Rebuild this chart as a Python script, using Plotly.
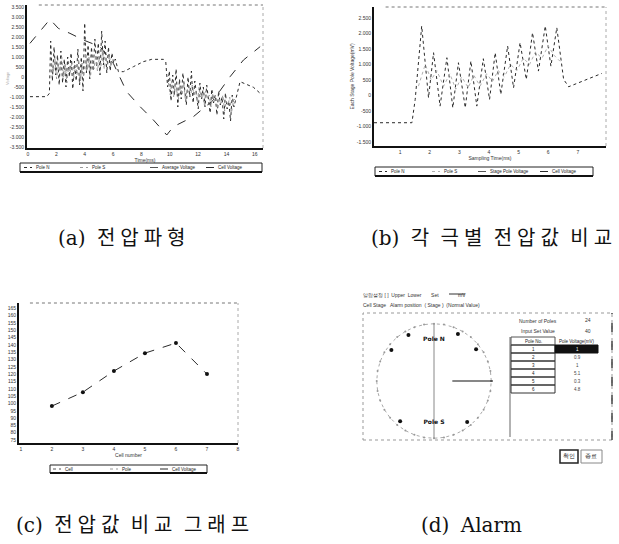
import plotly.graph_objects as go

W, H = 619, 544
def px(x): return x / W
def py(y): return 1 - y / H

# ---------------- Panel (a) data ----------------
a_xticks = [0, 2, 4, 6, 8, 10, 12, 14, 16]
a_yticks = [3500, 3000, 2500, 2000, 1500, 1000, 500, 0, -500, -1000, -1500, -2000, -2500, -3000, -3500]
a_yticktext = ["3.500", "3.000", "2.500", "2.000", "1.500", "1.000", "500", "0", "-500",
               "-1.000", "-1.500", "-2.000", "-2.500", "-3.000", "-3.500"]

a_env_x = [0.14, 1.55, 2.14, 2.96, 3.91, 5.08, 6.02, 6.96, 7.91, 8.85, 9.79, 10.26, 11.67, 13.08, 14.26, 15.2, 16.38]
a_env_y = [1683, 2883, 2433, 2183, 1850, 1517, 683, -733, -1483, -2150, -2900, -2483, -1983, -1150, 17, 850, 1517]

a_start_x = [0.14, 1.32, 1.51]
a_start_y = [-983, -983, -817]
a_r1_x = [1.6, 1.72, 1.84, 1.96, 2.08, 2.2, 2.32, 2.44, 2.56, 2.68, 2.8, 2.92, 3.04, 3.16, 3.28, 3.4, 3.52, 3.64, 3.76,
          3.88, 4.0, 4.12, 4.24, 4.36, 4.48, 4.6, 4.72, 4.84, 4.96, 5.08, 5.2, 5.32, 5.44, 5.56, 5.68, 5.8, 5.92, 6.04, 6.16]
a_r1_y = [1800, -200, 1500, 100, 1100, -400, 1300, -300, 900, -500, 1000, 0, 1200, -600, 800, -200, 1400, -400, 1000, -700,
          2700, 200, 1600, -100, 1500, 300, 1900, 500, 1700, 100, 2300, 600, 1800, 200, 1500, 300, 1200, 700, 900]
a_mid_x = [6.38, 6.73, 7.44, 8.14, 8.73, 9.55, 9.72]
a_mid_y = [267, 267, 517, 767, 883, 883, 767]
a_r2_x = [9.85, 9.97, 10.09, 10.21, 10.33, 10.45, 10.57, 10.69, 10.81, 10.93, 11.05, 11.17, 11.29, 11.41, 11.53, 11.65,
          11.77, 11.89, 12.01, 12.13, 12.25, 12.37, 12.49, 12.61, 12.73, 12.85, 12.97, 13.09, 13.21, 13.33, 13.45, 13.57,
          13.69, 13.81, 13.93, 14.05, 14.17, 14.29, 14.41, 14.53]
a_r2_y = [-500, 300, -1200, 100, -900, 400, -1500, -100, -1100, 200, -700, -1400, 0, -1000, 300, -1300, -200, -800, -1600, -300,
          -1100, -500, -1500, -400, -1200, -1800, -600, -1300, -900, -1900, -700, -1400, -1000, -2100, -800, -1600, -1200, -2200, -900, -1500]
a_end_x = [14.96, 15.91, 16.38]
a_end_y = [-233, -517, -817]

a_lt1_y = [700, 200, 900, -100, 600, 300, 1000, 0, 700, -300, 500, 200, 800, -100, 600, 100, 900, -200, 700, 0,
           1200, 300, 1000, 100, 900, 400, 1100, 300, 900, 500, 1300, 400, 1000, 600, 1100, 500, 900, 800, 700]
a_lt2_y = [-300, -900, -200, -1000, -400, -700, -1100, -500, -900, -300, -1200, -600, -800, -1000, -400, -900, -700, -1300, -500, -1000,
           -800, -1400, -700, -1100, -900, -1500, -800, -1200, -1000, -1600, -1100, -1300, -900, -1700, -1200, -1400, -1000, -1800, -1300, -1100]
a_legend = ["Pole N", "Pole S", "Average Voltage", "Cell Voltage"]

# ---------------- Panel (b) data ----------------
b_xticks = [1, 2, 3, 4, 5, 6, 7]
b_yticks = [2500, 2000, 1500, 1000, 500, 0, -500, -1000, -1500]
b_yticktext = ["2.500", "2.000", "1.500", "1.000", "500", "0", "-500", "-1.000", "-1.500"]
b_x = [0.12, 1.40, 1.51, 1.73, 1.96, 2.13, 2.35, 2.58, 2.78, 2.97, 3.20, 3.39, 3.59, 3.81, 4.02, 4.21, 4.40, 4.63, 4.83,
       5.05, 5.26, 5.47, 5.67, 5.90, 6.09, 6.29, 6.52, 6.69, 7.81]
b_y = [-880, -880, -130, 2237, -75, 1376, -344, 1215, -398, 1054, -398, 1108, -344, 1183, -129, 1376, 32, 1591, 247,
       1700, 516, 2022, 785, 2237, 946, 2184, 516, 280, 710]
b2_x = [1.62, 1.85, 2.05, 2.24, 2.47, 2.68, 2.88, 3.08, 3.30, 3.49, 3.70, 3.92, 4.12, 4.31, 4.52, 4.73, 4.94, 5.16,
        5.37, 5.57, 5.79, 6.00, 6.19, 6.40]
b2_y = [300, 1000, 500, 800, 300, 700, 200, 600, 250, 650, 300, 700, 450, 800, 600, 1000, 800, 1200, 1000, 1400,
        1200, 1600, 1300, 1100]
b_legend = ["Pole N", "Pole S", "Stage Pole Voltage", "Cell Voltage"]

# ---------------- Panel (c) data ----------------
c_xticks = [1, 2, 3, 4, 5, 6, 7, 8]
c_yticks = [75, 80, 85, 90, 95, 100, 105, 110, 115, 120, 125, 130, 135, 140, 145, 150, 155, 160, 165]
c_x = [2, 3, 4, 5, 6, 7]
c_y = [98.2, 107.7, 122.1, 134.3, 141.2, 120.0]
c_legend = ["Cell", "Pole", "Cell Voltage"]

# ---------------- Panel (d) data ----------------
pole_angles = [0, 10, 20, 30, 40, 50, 60, 70, 80, 90, 100, 110, 120, 130, 140, 150, 160, 170,
               180, 190, 200, 210, 220, 230, 240, 250, 260, 270, 280, 290, 300, 310, 320, 330, 340, 350, 360]
alarm_angles = [37, 63, 119, 144, 230, 309]
table_header = ["Pole No.", "Pole Voltage(mV)"]
pole_no = ["1", "2", "3", "4", "5", "6"]
pole_volt = ["1", "0.9", "1", "5.1", "0.3", "4.8"]

# ---------------- figure ----------------
fig = go.Figure()
ink = "#2a2a2a"
grey = "#9a9a9a"

# (a)
fig.add_trace(go.Scatter(x=a_env_x, y=a_env_y, mode="lines", name=a_legend[3],
                         line=dict(color=ink, width=1, dash="dash"), xaxis="x", yaxis="y"))
fig.add_trace(go.Scatter(x=a_start_x + a_r1_x + a_mid_x + a_r2_x + a_end_x,
                         y=a_start_y + a_r1_y + a_mid_y + a_r2_y + a_end_y, mode="lines", name=a_legend[0],
                         line=dict(color=ink, width=1, dash="dot"), xaxis="x", yaxis="y"))
fig.add_trace(go.Scatter(x=[v + 0.06 for v in a_r1_x] + [None] + [v + 0.06 for v in a_r2_x],
                         y=a_lt1_y + [None] + a_lt2_y, mode="lines", name=a_legend[1],
                         line=dict(color=grey, width=1, dash="dot"), xaxis="x", yaxis="y"))

# (b)
fig.add_trace(go.Scatter(x=b_x, y=b_y, mode="lines", name=b_legend[0],
                         line=dict(color=ink, width=1, dash="dot"), xaxis="x2", yaxis="y2"))
fig.add_trace(go.Scatter(x=b2_x, y=b2_y, mode="lines", name=b_legend[1],
                         line=dict(color="#b0b0b0", width=1, dash="dot"), xaxis="x2", yaxis="y2"))

# (c)
fig.add_trace(go.Scatter(x=c_x, y=c_y, mode="lines+markers", name=c_legend[2],
                         line=dict(color=ink, width=1, dash="dash"),
                         marker=dict(color="#111", size=4), xaxis="x3", yaxis="y3"))

# (d) polar
fig.add_trace(go.Scatterpolar(r=[1.0] * len(pole_angles), theta=pole_angles, mode="lines+markers",
                              line=dict(color="#aaaaaa", width=1, dash="dot"),
                              marker=dict(color="#999", size=2), subplot="polar"))
fig.add_trace(go.Scatterpolar(r=[0.92] * len(alarm_angles), theta=alarm_angles, mode="markers",
                              marker=dict(color="#111", size=4), subplot="polar"))
fig.add_trace(go.Scatterpolar(r=[1.0, 0, 1.0], theta=[90, 90, 270], mode="lines",
                              line=dict(color="#888", width=1), subplot="polar"))
fig.add_trace(go.Scatterpolar(r=[0.32, 1.03], theta=[0, 0], mode="lines",
                              line=dict(color="#111", width=1.2), subplot="polar"))
fig.add_trace(go.Scatterpolar(r=[0.72, 0.72], theta=[90, 270], mode="text", text=["<b>Pole N</b>", "<b>Pole S</b>"],
                              textfont=dict(size=6, color="#111", family="DejaVu Sans"), subplot="polar"))

axis_common = dict(showline=True, linecolor="#111", linewidth=2, showgrid=False, zeroline=False,
                   ticks="", tickfont=dict(size=5, color="#333", family="Arial"))

fig.update_layout(
    width=W, height=H, autosize=False, showlegend=False,
    margin=dict(l=0, r=0, t=0, b=0, autoexpand=False),
    paper_bgcolor="white", plot_bgcolor="white",
    font=dict(family="Arial", color="#333"),
    xaxis=dict(domain=[px(27), px(263)], anchor="y", range=[-0.07, 16.58], tickvals=a_xticks,
               title=dict(text="Time(ms)", font=dict(size=5), standoff=2), **axis_common),
    yaxis=dict(domain=[py(148), py(5)], anchor="x", range=[-3550, 3600], tickvals=a_yticks,
               ticktext=a_yticktext, **axis_common),
    xaxis2=dict(domain=[px(374), px(606)], anchor="y2", range=[0.12, 7.95], tickvals=b_xticks,
                title=dict(text="Sampling Time(ms)", font=dict(size=5), standoff=2), **axis_common),
    yaxis2=dict(domain=[py(146), py(7)], anchor="x2", range=[-1630, 2850], tickvals=b_yticks,
                ticktext=b_yticktext, title=dict(text="Each Stage Pole Voltage(mV)", font=dict(size=5), standoff=2),
                **axis_common),
    xaxis3=dict(domain=[px(19), px(238)], anchor="y3", range=[0.94, 8.0], tickvals=c_xticks,
                title=dict(text="Cell number", font=dict(size=5), standoff=2), **axis_common),
    yaxis3=dict(domain=[py(443), py(303)], anchor="x3", range=[73, 168.5], tickvals=c_yticks, **axis_common),
    polar=dict(domain=dict(x=[px(375), px(493)], y=[py(440), py(322)]), bgcolor="white",
               angularaxis=dict(showline=False, showgrid=False, showticklabels=False, ticks=""),
               radialaxis=dict(visible=False, range=[0, 1.03])),
)

shapes = []
ann = []

def note(x, y, text, size=5, color="#333", anchor="left", **kw):
    ann.append(dict(x=px(x), y=py(y), xref="paper", yref="paper", text=text, showarrow=False,
                    xanchor=anchor, yanchor="middle", font=dict(size=size, color=color), **kw))

def pline(x0, y0, x1, y1, color="#333", width=1, dash="solid"):
    shapes.append(dict(type="line", xref="paper", yref="paper", x0=px(x0), x1=px(x1), y0=py(y0), y1=py(y1),
                       line=dict(color=color, width=width, dash=dash)))

def prect(x0, y0, x1, y1, color="#333", width=1, dash="solid", fill=None):
    d = dict(type="rect", xref="paper", yref="paper", x0=px(x0), x1=px(x1), y0=py(y1), y1=py(y0),
             line=dict(color=color, width=width, dash=dash))
    if fill:
        d["fillcolor"] = fill
    shapes.append(d)

# dotted top/right frame lines for charts
for xr, yr in [("x domain", "y domain"), ("x2 domain", "y2 domain"), ("x3 domain", "y3 domain")]:
    shapes.append(dict(type="line", xref=xr, yref=yr, x0=0.05, x1=1, y0=1, y1=1,
                       line=dict(color="#777", width=1, dash="dot")))
    shapes.append(dict(type="line", xref=xr, yref=yr, x0=1, x1=1, y0=0, y1=1,
                       line=dict(color="#aaa", width=1, dash="dot")))

# manual legends
def legend_box(x0, x1, y0, y1, names, xs, styles):
    prect(x0, y0, x1, y1, color="#222", width=1)
    pline(x0, y1, x1, y1, color="#111", width=2)
    yc = (y0 + y1) / 2
    for n, x, (c, d) in zip(names, xs, styles):
        pline(x, yc, x + 8, yc, color=c, dash=d)
        note(x + 10, yc, n, size=4.5, color="#222")

legend_box(20, 262, 163, 172, a_legend, [24, 80, 150, 206],
           [(ink, "dot"), (grey, "dot"), ("#555", "dash"), (ink, "dash")])
legend_box(375, 593, 167, 176, b_legend, [379, 432, 478, 540],
           [(ink, "dot"), ("#b0b0b0", "dot"), ("#555", "dash"), (ink, "dash")])
legend_box(50, 207, 465, 473, c_legend, [53, 110, 160],
           [("#555", "dot"), ("#999", "dot"), (ink, "dash")])

# panel (d) window frame
prect(363, 313, 612, 440, color="#999", width=1, dash="dot")
pline(612, 440, 612, 313, color="#444", width=1.5, dash="dash")
pline(510, 437, 510, 337, color="#666", width=1)
pline(449, 294, 465, 294, color="#333", width=1)
prect(560, 450, 578, 463, color="#222", width=1.5)
prect(581, 450, 602, 463, color="#888", width=1)

# table (pole list)
row_h = 8
top = 337
note(533, top + row_h / 2, table_header[0], size=4.5, anchor="center", color="#222")
note(577, top + row_h / 2, table_header[1], size=4.5, anchor="center", color="#222")
prect(511, top, 555, top + row_h, color="#555", width=1)
for i, (n, v) in enumerate(zip(pole_no, pole_volt)):
    y0 = top + row_h * (i + 1)
    prect(511, y0, 555, y0 + row_h, color="#333", width=1)
    note(533, y0 + row_h / 2, n, size=4.5, anchor="center", color="#222")
    if i == 0:
        prect(555, y0, 598, y0 + row_h, color="#111", width=1, fill="#111")
        note(577, y0 + row_h / 2, v, size=4.5, anchor="center", color="white")
    else:
        note(577, y0 + row_h / 2, v, size=4.5, anchor="center", color="#444")

note(8, 78, "Voltage", size=4, color="#aaa", anchor="center", textangle=-90)
note(361, 295, "알람설정 [ ]  Upper  Lower       Set              mV", size=5)
note(361, 305, "Cell Stage   Alarm position  ( Stage )  (Normal Value)", size=5)
note(538, 321, "Number of Poles", size=5, anchor="center")
note(588, 320, "24", size=5, anchor="center")
note(538, 331, "Input Set Value", size=5, anchor="center")
note(588, 331, "40", size=5, anchor="center")
note(569, 456, "확인", size=6, anchor="center", color="#111")
note(591, 456, "종료", size=6, anchor="center", color="#111")

sp = "\u2005"
gap = " " + "\u2005"
def spaced(*words):
    return gap.join(sp.join(w) for w in words)

cap = dict(size=20, color="#111", family="DejaVu Serif, Noto Sans CJK KR")
for x, y, t in [(122, 238, "(a)" + gap + spaced("전압파형")),
                (491, 238, "(b)" + gap + spaced("각", "극별", "전압값", "비교")),
                (132, 525, "(c)" + gap + spaced("전압값", "비교", "그래프")),
                (471, 525, "(d)" + gap + "Alarm")]:
    ann.append(dict(x=px(x), y=py(y), xref="paper", yref="paper", text=t, showarrow=False,
                    xanchor="center", yanchor="middle", font=cap))

fig.update_layout(shapes=shapes, annotations=ann)

fig.write_html("out.html", config={"displayModeBar": False},
               post_script="document.body.style.margin='0';")
